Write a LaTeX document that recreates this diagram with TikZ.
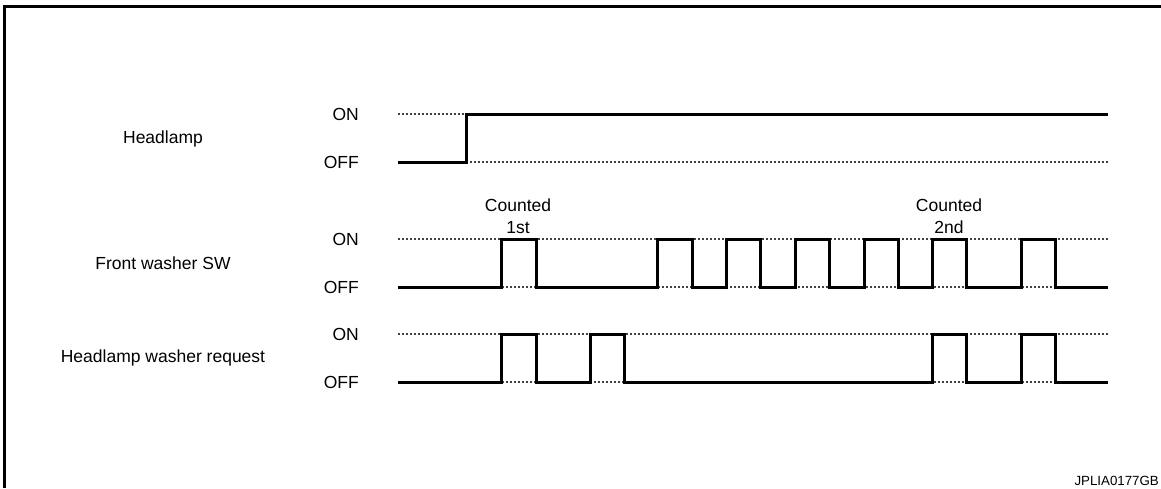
\documentclass[tikz,border=0pt]{standalone}
\usepackage{fontspec}
\setmainfont{Liberation Sans}
\begin{document}
\begin{tikzpicture}[x=1pt,y=-1pt,
  wave/.style={line width=3pt,line join=miter},
  level/.style={line width=1.1pt,dash pattern=on 2.4pt off 1.6pt,black!75},
  frame/.style={line width=3.5pt},
  lbl/.style={font=\fontsize{17.5}{22}\selectfont,inner sep=0pt},
  code/.style={font=\fontsize{13.3}{15}\selectfont,inner sep=0pt}]
\useasboundingbox (0,0) rectangle (1161,488);

% open frame: left and top edges
\draw[frame] (4.5,488) -- (4.5,6.5) -- (1161,6.5);

% signal names
\node[lbl] (hl) at (163,139) {Headlamp};
\node[lbl] (sw) at (163,263) {Front washer SW};
\node[lbl] (rq) at (163,358) {Headlamp washer request};

% level names
\node[lbl,anchor=east] (hlon)  at (359,114) {ON};
\node[lbl,anchor=east] (hloff) at (359,162) {OFF};
\node[lbl,anchor=east] (swon)  at (359,239) {ON};
\node[lbl,anchor=east] (swoff) at (359,287) {OFF};
\node[lbl,anchor=east] (rqon)  at (359,334) {ON};
\node[lbl,anchor=east] (rqoff) at (359,382) {OFF};

% reference levels
\foreach \y in {114,162,239,287,334,382}
  \draw[level] (398,\y) -- (1108,\y);

% headlamp
\draw[wave] (398,162) -| (466,114) -- (1108,114);

% front washer switch
\draw[wave] (398,287)
  foreach \a/\b in {501/536,657/692,726/760,795/829,864/898,932/966,1021/1055}
  { -| (\a,239) -| (\b,287) } -- (1108,287);

% headlamp washer request
\draw[wave] (398,382)
  foreach \a/\b in {501/536,590/624,932/966,1021/1055}
  { -| (\a,334) -| (\b,382) } -- (1108,382);

% count annotations
\node[lbl,align=center] (cnt1) at (518,216) {Counted\\1st};
\node[lbl,align=center] (cnt2) at (949,216) {Counted\\2nd};

% figure code
\node[code,anchor=east] (fig) at (1159,481) {JPLIA0177GB};
\end{tikzpicture}
\end{document}
